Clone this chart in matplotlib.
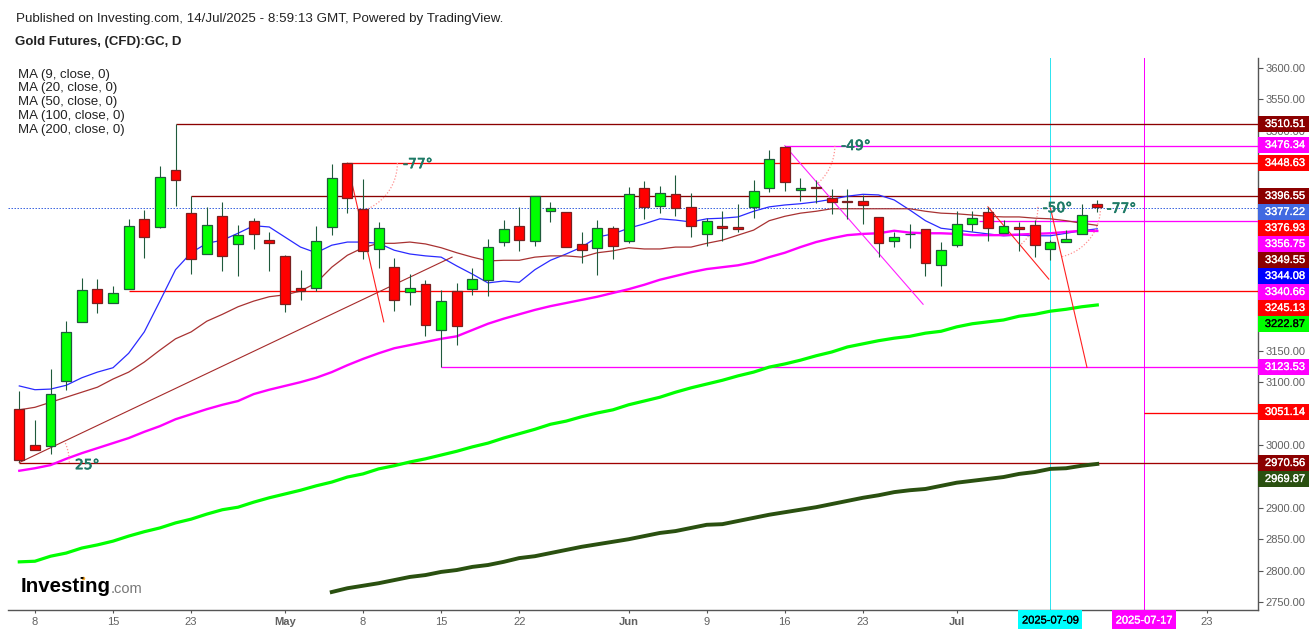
#!/usr/bin/env python3
# Gold futures daily candles with moving averages and drawn trend lines
import numpy as np
import matplotlib
matplotlib.use('Agg')
import matplotlib.pyplot as plt
from matplotlib.patches import Rectangle
import matplotlib.patheffects as pe

plt.rcParams['font.family'] = ['Liberation Sans', 'DejaVu Sans']

# candles
opens = [3057, 3000, 2998, 3102, 3196, 3248, 3226, 3248, 3360, 3347,
         3438, 3369, 3304, 3364, 3320, 3357, 3326, 3301, 3250, 3250,
         3347, 3448.63, 3376, 3312, 3283, 3244, 3256, 3183, 3245, 3248,
         3263, 3323, 3349, 3325, 3372, 3371, 3320, 3314, 3345, 3325,
         3409, 3380, 3399, 3379, 3336, 3349, 3347, 3379, 3409, 3474,
         3406, 3410, 3393, 3388, 3388, 3363, 3325, 3336, 3344, 3286,
         3318, 3352, 3371, 3337, 3347, 3350, 3312, 3323, 3336, 3384]
highs = [3086, 3040, 3121, 3197, 3266, 3264, 3253, 3360, 3374, 3444,
         3510.51, 3396.55, 3379, 3387, 3350, 3361, 3339, 3302, 3279, 3349,
         3447, 3448.63, 3423, 3355, 3298, 3272, 3263, 3247, 3258, 3282,
         3328, 3358, 3379, 3396, 3387, 3371, 3339, 3358, 3349, 3411,
         3420, 3412, 3430, 3401, 3361, 3372, 3384, 3422, 3470, 3476.34,
         3425, 3422, 3407, 3407, 3398, 3363, 3339, 3352, 3344, 3323,
         3372, 3372, 3379, 3358, 3355, 3358, 3326, 3342, 3384, 3390]
lows = [2973, 2992, 2986, 3088, 3196, 3210, 3226, 3248, 3298, 3345,
        3380, 3272, 3304, 3277, 3269, 3312, 3277, 3212, 3231, 3245,
        3334, 3369, 3296, 3282, 3213, 3223, 3173, 3123.53, 3159, 3239,
        3237, 3317, 3309, 3317, 3355, 3315, 3290, 3271, 3296, 3321,
        3360, 3369, 3364, 3331, 3317, 3325, 3339, 3361, 3403, 3404,
        3388, 3385, 3368, 3360, 3352, 3299, 3315, 3314, 3269, 3253,
        3315, 3341, 3325, 3337, 3309, 3299, 3294, 3323, 3336, 3371]
closes = [2976, 2992, 3081, 3180, 3247, 3226, 3242, 3349, 3331, 3427,
          3422, 3296, 3350, 3301, 3334, 3336, 3321, 3224, 3245, 3325,
          3425, 3393, 3309, 3345, 3231, 3250, 3191, 3229, 3189, 3264,
          3315, 3344, 3326, 3396, 3377, 3315, 3310, 3345, 3317, 3399,
          3379, 3401, 3377, 3349, 3357, 3345, 3344, 3404, 3455, 3419,
          3409, 3409, 3387, 3387, 3382, 3321, 3331, 3336, 3290, 3310,
          3352, 3361, 3345, 3349, 3344, 3318, 3323, 3328, 3366, 3379]

# moving averages
ma9 = [3094, 3088, 3089, 3095, 3107, 3116, 3123, 3146, 3180, 3229,
       3279, 3306, 3321, 3326, 3337, 3349, 3347, 3331, 3315, 3306,
       3318, 3323, 3323, 3321, 3310, 3304, 3301, 3299, 3285, 3272,
       3258, 3261, 3259, 3279, 3294, 3304, 3315, 3331, 3336, 3345,
       3352, 3360, 3358, 3355, 3360, 3361, 3363, 3372, 3379, 3382,
       3384, 3387, 3391, 3396, 3399, 3398, 3390, 3374, 3357, 3345,
       3342, 3339, 3336, 3333, 3334, 3333, 3333, 3337, 3341, 3344.08]
ma20 = [3056, 3060, 3068, 3076, 3084, 3092, 3105, 3116, 3132, 3151,
        3169, 3180, 3197, 3208, 3220, 3229, 3236, 3239, 3245, 3258,
        3283, 3302, 3314, 3321, 3321, 3323, 3320, 3314, 3306, 3299,
        3293, 3294, 3294, 3299, 3301, 3301, 3299, 3306, 3309, 3314,
        3312, 3312, 3315, 3315, 3321, 3326, 3334, 3342, 3357, 3364,
        3369, 3372, 3376, 3376, 3376, 3376, 3376, 3376, 3372, 3369,
        3368, 3366, 3364, 3363, 3363, 3361, 3360, 3357, 3353, 3349.55]
ma50 = [2959, 2963, 2968, 2978, 2987, 2995, 3003, 3011, 3021, 3030,
        3041, 3049, 3057, 3064, 3070, 3081, 3088, 3094, 3100, 3107,
        3116, 3127, 3137, 3146, 3154, 3159, 3164, 3169, 3173, 3183,
        3193, 3201, 3208, 3215, 3221, 3226, 3231, 3236, 3242, 3248,
        3255, 3263, 3269, 3275, 3280, 3283, 3286, 3291, 3299, 3306,
        3315, 3323, 3329, 3334, 3336, 3337, 3341, 3338, 3337, 3337,
        3336, 3334, 3334, 3334, 3335, 3336, 3337, 3339, 3341, 3340.66]
ma100 = [2814, 2815, 2823, 2828, 2836, 2841, 2847, 2855, 2862, 2868,
         2876, 2882, 2890, 2897, 2901, 2909, 2916, 2922, 2928, 2935,
         2941, 2949, 2954, 2962, 2967, 2973, 2978, 2984, 2990, 2997,
         3003, 3011, 3018, 3025, 3033, 3038, 3045, 3051, 3056, 3064,
         3070, 3076, 3084, 3091, 3097, 3103, 3110, 3116, 3124, 3129,
         3135, 3142, 3148, 3156, 3161, 3166, 3170, 3173, 3178, 3181,
         3188, 3193, 3196, 3199, 3205, 3208, 3213, 3216, 3220, 3222.87]
# the 200 day line only starts at the 21st candle
ma200 = [2766, 2772, 2776, 2780, 2785, 2790, 2793, 2798, 2801, 2806,
         2809, 2814, 2820, 2823, 2828, 2833, 2838, 2842, 2846, 2850,
         2855, 2860, 2863, 2868, 2873, 2874, 2879, 2884, 2889, 2893,
         2897, 2901, 2906, 2911, 2916, 2920, 2925, 2928, 2930, 2935,
         2940, 2943, 2946, 2949, 2954, 2957, 2962, 2963, 2967, 2969.87]
ma_names = ['MA (9, close, 0)', 'MA (20, close, 0)', 'MA (50, close, 0)',
            'MA (100, close, 0)', 'MA (200, close, 0)']

# horizontal lines: price, first candle, colour
hline_prices = [3510.51, 3476.34, 3448.63, 3396.55, 3356.75, 3245.13, 3123.53, 3051.14, 2970.56]
hline_starts = [10, 49, 21, 11, 61.4, 7, 27, 72, 0]
hline_colors = ['#8b0000', '#ff00ff', '#ff0000', '#8b0000', '#ff00ff', '#ff0000', '#ff00ff', '#ff0000', '#a00000']
last_price = 3377.22

# trend lines with their angle marks
trend_x = [(0, 27.7), (21, 23.33), (49, 57.85), (62, 65.9), (66, 68.34)]
trend_y = [(2972, 3299), (3448.63, 3196), (3476.34, 3224), (3379, 3264), (3377.22, 3123.53)]
trend_colors = ['#a52a2a', '#ff2020', '#ff20ff', '#ff2020', '#ff2020']
trend_angles = [25, -77, -49, -50, -77]
angle_label_x = [3.56, 24.56, 52.6, 65.5, 69.6]
angle_label_y = [2968, 3447, 3476, 3377, 3376]

# y labels that the price tags do not hide
y_ticks = list(range(2750, 3601, 50))
y_labelled = [2750, 2800, 2850, 2900, 3000, 3100, 3150, 3500, 3550, 3600]

# right hand tags
tag_labels = ['3510.51', '3476.34', '3448.63', '3396.55', '3377.22', '3376.93', '3356.75', '3349.55',
              '3344.08', '3340.66', '3245.13', '3222.87', '3123.53', '3051.14', '2970.56', '2969.87']
tag_colors = ['#8b0000', '#ff00ff', '#ff0000', '#8b0000', '#4169e1', '#ff0000', '#ff00ff', '#8b0000',
              '#0000ff', '#ff00ff', '#ff0000', '#00ff00', '#ff00ff', '#ff0000', '#8b0000', '#2a5010']
tag_text_colors = ['white'] * 11 + ['black'] + ['white'] * 4
tag_pixels = [124, 145, 163, 196, 212, 228, 244, 260, 276, 292, 308, 324, 367, 412, 463, 479]

x_tick_pos = [1, 6, 11, 17, 22, 27, 32, 39, 44, 49, 54, 60, 76]
x_tick_labels = ['8', '15', '23', 'May', '8', '15', '22', 'Jun', '9', '16', '23', 'Jul', '23']
month_labels = ['May', 'Jun', 'Jul']
cursor_pos = [66, 72]
cursor_labels = ['2025-07-09', '2025-07-17']
cursor_colors = ['#30e4f0', '#ff00ff']
cursor_tag_colors = ['#00ffff', '#ff00ff']
cursor_text = ['black', 'white']

WIDTH, HEIGHT = 1316, 634
LEFT, RIGHT, TOP, BOTTOM = 8, 1258, 58, 610
PX_PER_BAR = 15.623
PX_PER_USD = 0.6283
ONE_PX = 0.72
TEAL = '#1e7a66'
GREY = '#616161'
AXIS_GREY = '#555555'


def fx(px):
    return px / WIDTH


def fy(py):
    return 1 - py / HEIGHT


def draw_candles(ax):
    x = np.arange(len(opens))
    o, h, l, c = map(np.array, (opens, highs, lows, closes))
    up = c >= o
    wicks = ax.vlines(x, l, h, color='#1f5a3c', linewidth=ONE_PX * 1.1, zorder=5)
    wicks.set_snap(True)
    ax.bar(x[up], (c - o)[up], bottom=o[up], width=0.63, color='#00ff00',
           edgecolor='#1f5a3c', linewidth=0.9, zorder=6)
    ax.bar(x[~up], (o - c)[~up], bottom=c[~up], width=0.63, color='#ff0000',
           edgecolor='#7a2020', linewidth=0.9, zorder=6)


def draw_angle(ax, x0, y0, angle):
    # arc is round in pixels, so work out the bar/price offsets from the scales
    radius = 50
    theta = np.radians(np.linspace(0, angle, 30))
    ax.plot(x0 + radius * np.cos(theta) / PX_PER_BAR,
            y0 + radius * np.sin(theta) / PX_PER_USD,
            color='#ff9090', linewidth=0.9, linestyle=(0, (1, 1.5)), zorder=4)


fig = plt.figure(figsize=(WIDTH / 100, HEIGHT / 100), dpi=100)
ax = fig.add_axes([fx(LEFT), fy(BOTTOM), (RIGHT - LEFT) / WIDTH, (BOTTOM - TOP) / HEIGHT])
ax.set_xlim((LEFT - 19.3) / PX_PER_BAR, (RIGHT - 19.3) / PX_PER_BAR)
ax.set_ylim(3000 - (BOTTOM - 445) / PX_PER_USD, 3000 + (445 - TOP) / PX_PER_USD)

# price lines
x_end = ax.get_xlim()[1]
for price, start, color in zip(hline_prices, hline_starts, hline_colors):
    ax.plot([start, x_end], [price, price], color=color, linewidth=0.95,
            solid_capstyle='butt', zorder=3)
ax.axhline(last_price, color='#4169e1', linewidth=ONE_PX, linestyle=(0, (1.5, 1.5)), zorder=3)

# cursor lines
for pos, color in zip(cursor_pos, cursor_colors):
    ax.axvline(pos, color=color, linewidth=ONE_PX, zorder=2)

# moving averages
bars = np.arange(len(opens))
ax.plot(bars, ma9, color='#2a2aff', linewidth=0.9, zorder=3)
ax.plot(bars, ma20, color='#a83232', linewidth=0.9, zorder=3)
ax.plot(bars, ma50, color='#ff00ff', linewidth=1.7, zorder=3)
ax.plot(bars, ma100, color='#00ff00', linewidth=2.3, zorder=3)
ax.plot(bars[len(opens) - len(ma200):], ma200, color='#2a5010', linewidth=2.8, zorder=3)

# trend lines
for tx, ty, color, angle in zip(trend_x, trend_y, trend_colors, trend_angles):
    ax.plot(tx, ty, color=color, linewidth=0.8, zorder=4)
    draw_angle(ax, tx[0], ty[0], angle)
for lx, ly, angle in zip(angle_label_x, angle_label_y, trend_angles):
    ax.text(lx, ly, f'{angle}°', color=TEAL, fontsize=10, family='DejaVu Sans',
            va='center', ha='left', zorder=8,
            path_effects=[pe.withStroke(linewidth=0.5, foreground=TEAL)])

draw_candles(ax)

# axes
for side in ('left', 'top'):
    ax.spines[side].set_visible(False)
for side in ('right', 'bottom'):
    ax.spines[side].set_color(AXIS_GREY)
    ax.spines[side].set_linewidth(1.0)
ax.yaxis.tick_right()
ax.set_yticks(y_ticks)
ax.set_yticklabels([f'{v:.2f}' if v in y_labelled else '' for v in y_ticks])
ax.tick_params(axis='y', length=3.6, width=0.8, color=AXIS_GREY, labelcolor=GREY, labelsize=8, pad=1.5)
ax.set_xticks(x_tick_pos + cursor_pos)
ax.set_xticklabels(x_tick_labels + [''] * len(cursor_pos))
ax.tick_params(axis='x', length=2.5, width=0.8, color=AXIS_GREY, labelcolor=GREY, labelsize=8, pad=2.5)
for label in ax.get_xticklabels():
    if label.get_text() in month_labels:
        label.set_fontweight('bold')

# price tags
for text, color, tcolor, py in zip(tag_labels, tag_colors, tag_text_colors, tag_pixels):
    ax.add_patch(Rectangle((fx(RIGHT), fy(py + 8)), 51 / WIDTH, 16 / HEIGHT, transform=fig.transFigure,
                           facecolor=color, edgecolor='none', clip_on=False, zorder=9))
    ax.text(fx(1285), fy(py), text, transform=fig.transFigure, color=tcolor, fontsize=8,
            ha='center', va='center', clip_on=False, zorder=10,
            path_effects=[pe.withStroke(linewidth=0.2, foreground=tcolor)])

# date tags under the axis
for pos, text, color, tcolor in zip(cursor_pos, cursor_labels, cursor_tag_colors, cursor_text):
    cx = 19.3 + pos * PX_PER_BAR
    ax.add_patch(Rectangle((fx(cx - 32), fy(629)), 64 / WIDTH, 19 / HEIGHT, transform=fig.transFigure,
                           facecolor=color, edgecolor='none', clip_on=False, zorder=9))
    ax.text(fx(cx), fy(620.5), text, transform=fig.transFigure, color=tcolor, fontsize=8,
            ha='center', va='center', clip_on=False, zorder=10,
            path_effects=[pe.withStroke(linewidth=0.2, foreground=tcolor)])

# header and legend
fig.text(fx(16), fy(19), 'Published on Investing.com, 14/Jul/2025 - 8:59:13 GMT, Powered by TradingView.',
         fontsize=9.6, color='#222222', va='center')
fig.text(fx(15), fy(42), 'Gold Futures, (CFD):GC, D', fontsize=9.5, fontweight='bold', color='#222222', va='center')
for name, py in zip(ma_names, [75, 88.5, 102, 115.5, 129.5]):
    fig.text(fx(18), fy(py), name, fontsize=9.5, color='#222222', va='center')

# logo
fig.text(fx(21), fy(587), 'Investing', fontsize=14.8, fontweight='bold', color='black', va='center')
fig.text(fx(111), fy(589), '.com', fontsize=10.5, color='#777777', va='center')
ax.plot([fx(83)], [fy(578)], marker='o', markersize=2.5, color='#f5a623', markeredgecolor='none',
        transform=fig.transFigure, clip_on=False, zorder=10)

fig.savefig('out.png', dpi=100, facecolor='white')
